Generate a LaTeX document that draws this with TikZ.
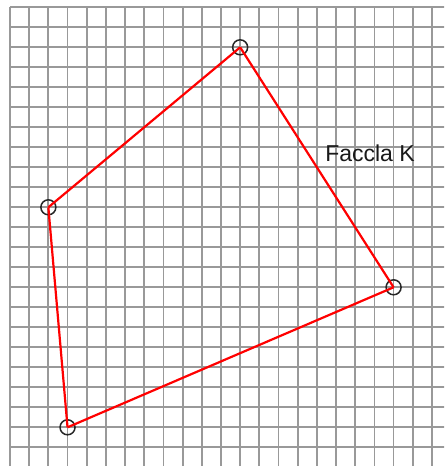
\documentclass[tikz,border=0pt]{standalone}
\usepackage{fontspec}
\setmainfont{Liberation Sans}
\usepackage{tikz}
\usetikzlibrary{positioning}

\begin{document}
\begin{tikzpicture}[
  x=19.18pt, y=20pt,
  gridl/.style={draw=black!40, line width=1.8pt},
  vtx/.style={circle, draw=black!85, line width=1.5pt, minimum size=15pt, inner sep=0pt},
  side/.style={draw=red, line width=2.2pt},
  lbl/.style={font=\fontsize{23}{27}\selectfont, text=black!90, inner sep=0pt}
]
\useasboundingbox (-0.521,0.365) rectangle (22.63,-22.935);
\fill[white] (-0.521,0.365) rectangle (22.63,-22.935);

% griglia
\clip (-0.521,0.365) rectangle (22.63,-22.935);
\draw[gridl, xstep=19.18pt, ystep=20pt] (0,-23.5) grid (23,0);

% vertici della faccia
\node[vtx] (a) at (12,-2) {};
\node[vtx] (b) at (20,-14) {};
\node[vtx] (c) at (3,-21) {};
\node[vtx] (d) at (2,-10) {};

% lati
\draw[side] (a.center) -- (b.center);
\draw[side] (b.center) -- (c.center);
\draw[side] (c.center) -- (d.center);
\draw[side] (d.center) -- (a.center);

\node[lbl] (k) at (18.77,-7.29) {Faccla K};
\end{tikzpicture}
\end{document}
